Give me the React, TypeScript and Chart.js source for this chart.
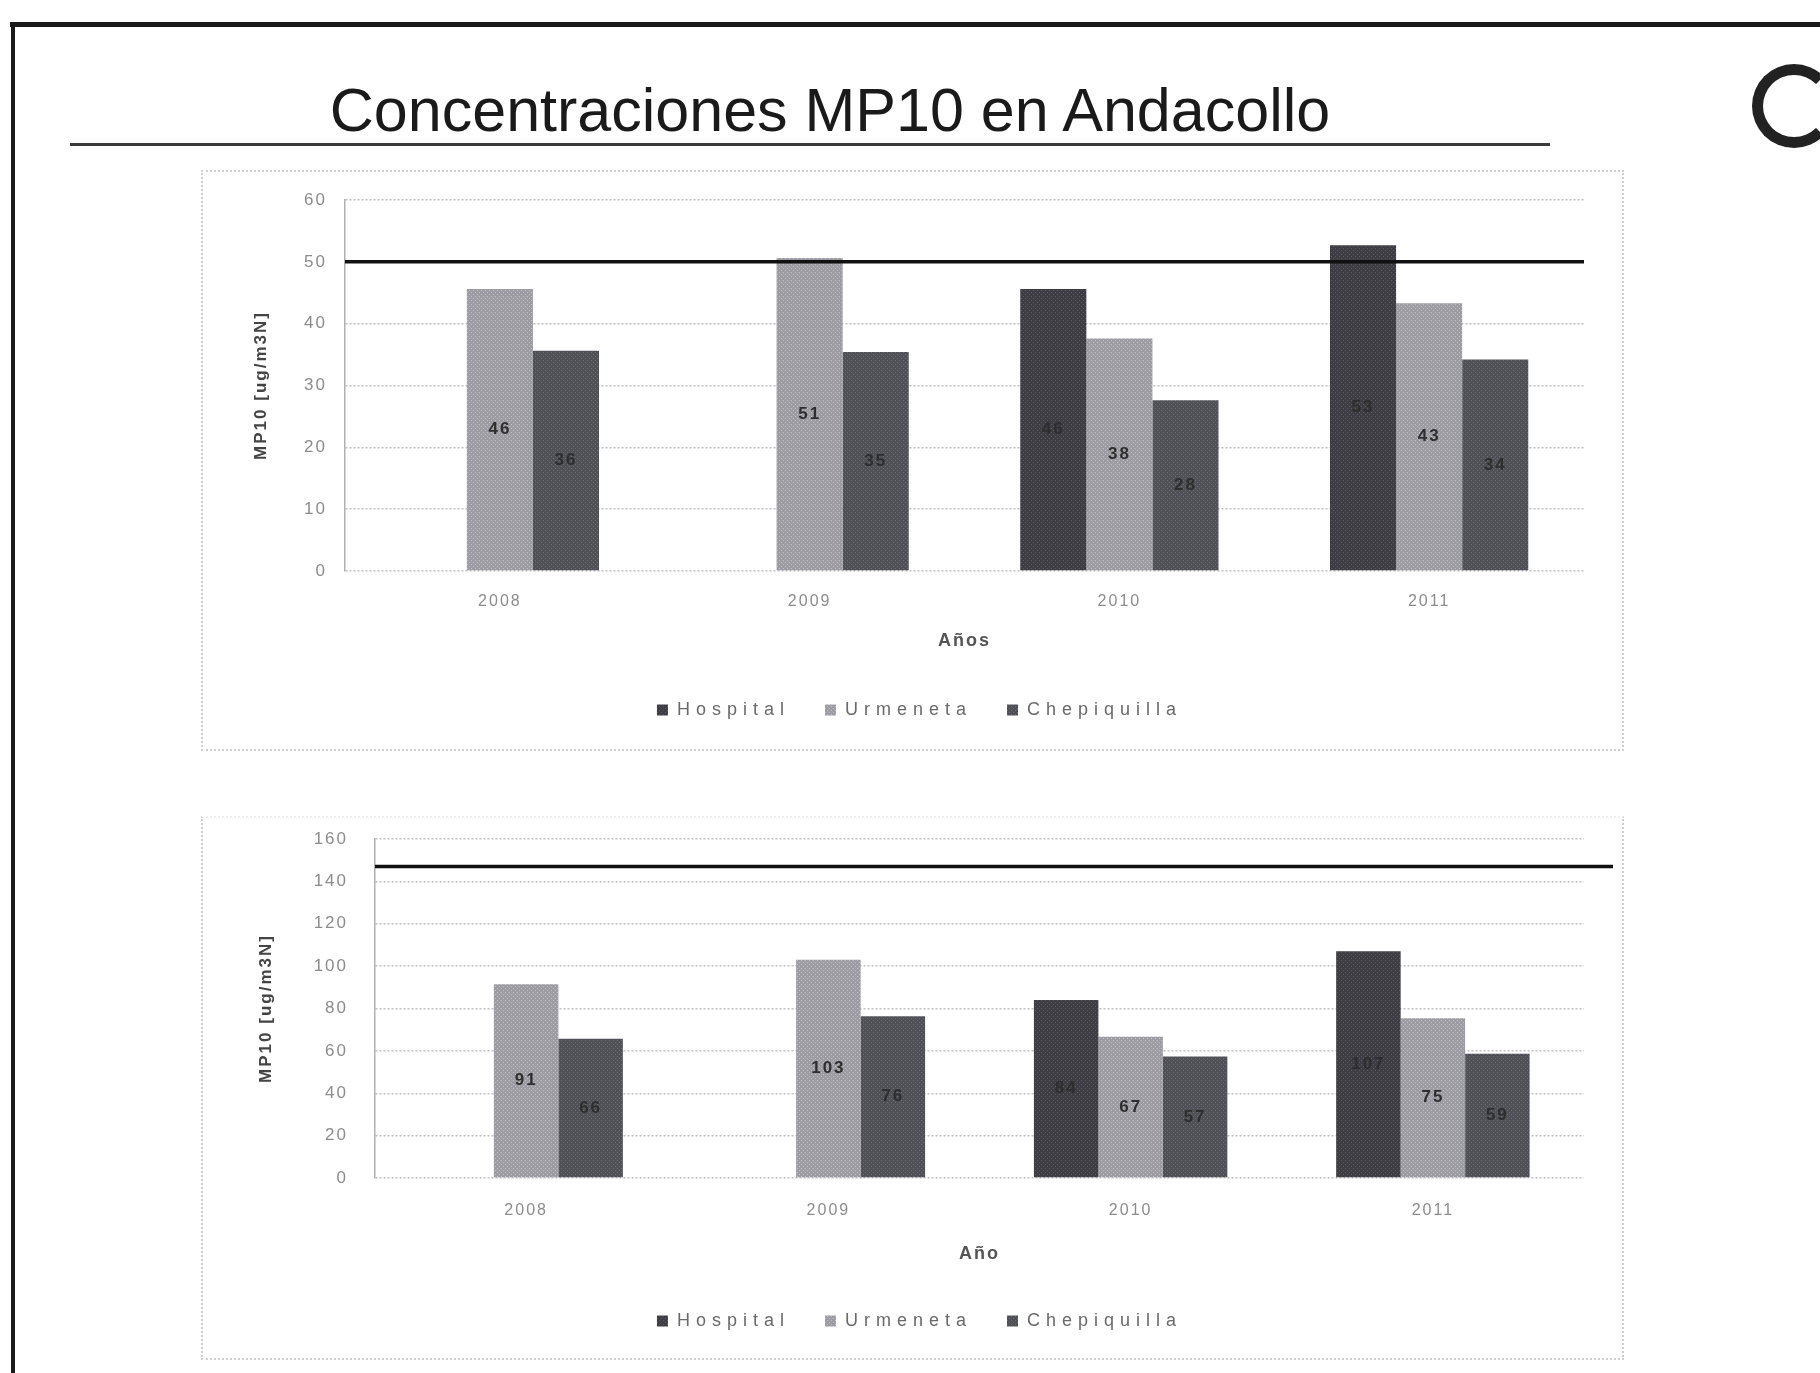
import React, { useEffect, useRef } from "react";
import { Chart, registerables } from "chart.js";

Chart.register(...registerables);

// ---------- DATA ----------
const YEARS = ["2008", "2009", "2010", "2011"];
const STATIONS = ["Hospital", "Urmeneta", "Chepiquilla"];

// Annual average MP10 [ug/m3N]
const ANNUAL_HOSPITAL: (number | null)[] = [null, null, 45.6, 52.7];
const ANNUAL_URMENETA: (number | null)[] = [45.6, 50.6, 37.6, 43.3];
const ANNUAL_CHEPIQUILLA: (number | null)[] = [35.6, 35.4, 27.6, 34.2];
const ANNUAL_LIMIT = 50;
const ANNUAL_Y_MAX = 60;
const ANNUAL_Y_STEP = 10;

// 24h MP10 [ug/m3N]
const DAILY_HOSPITAL: (number | null)[] = [null, null, 84, 107];
const DAILY_URMENETA: (number | null)[] = [91.4, 103, 66.7, 75.4];
const DAILY_CHEPIQUILLA: (number | null)[] = [65.7, 76.4, 57.4, 58.6];
const DAILY_LIMIT = 147;
const DAILY_Y_MAX = 160;
const DAILY_Y_STEP = 20;

const Y_TITLE = "MP10 [ug/m3N]";
const X_TITLE_TOP = "Años";
const X_TITLE_BOTTOM = "Año";
const PAGE_TITLE = "Concentraciones MP10 en Andacollo";

// ---------- STYLE ----------
const BAR_COLORS = ["#3d3d43", "#9c9ca2", "#505057"];
const DOT_COLORS = ["#5a5a60", "#c0c0c6", "#6c6c72"];
const FONT = "'Liberation Sans', Arial, sans-serif";
const TEXT_SPACING = "2px";
const LEGEND_SPACING = "6px";
const LEGEND_SHIFT = 26;

function makePattern(base: string, dot: string): CanvasPattern | string {
  const c = document.createElement("canvas");
  c.width = 4;
  c.height = 4;
  const x = c.getContext("2d");
  if (!x) return base;
  x.fillStyle = base;
  x.fillRect(0, 0, 4, 4);
  x.fillStyle = dot;
  x.fillRect(0, 0, 1, 1);
  x.fillRect(2, 2, 1, 1);
  const p = x.createPattern(c, "repeat");
  return p || base;
}

const spacingPlugin = {
  id: "spacing",
  beforeUpdate(chart: any) {
    chart.ctx.letterSpacing = TEXT_SPACING;
  },
  beforeDraw(chart: any) {
    chart.ctx.letterSpacing = TEXT_SPACING;
  },
};

const overlayPlugin = {
  id: "overlay",
  afterDatasetsDraw(chart: any, _args: any, opts: any) {
    const { ctx, chartArea, scales } = chart;
    ctx.save();
    ctx.font = `bold ${opts.labelSize}px ${FONT}`;
    ctx.fillStyle = "#2e2e2e";
    ctx.textAlign = "center";
    ctx.textBaseline = "middle";
    chart.data.datasets.forEach((ds: any, i: number) => {
      const meta = chart.getDatasetMeta(i);
      meta.data.forEach((bar: any, j: number) => {
        const v = ds.data[j];
        if (v == null) return;
        const p = bar.getProps(["x", "y", "base"], true);
        ctx.fillText(String(Math.round(v)), p.x, (p.y + p.base) / 2);
      });
    });
    const y = scales.y.getPixelForValue(opts.limit);
    ctx.strokeStyle = "#111";
    ctx.lineWidth = 3.5;
    ctx.beginPath();
    ctx.moveTo(chartArea.left, y);
    ctx.lineTo(chartArea.right + opts.extend, y);
    ctx.stroke();
    ctx.restore();
  },
};

type Geo = {
  width: number;
  height: number;
  padTop: number;
  padRight: number;
  padBottom: number;
  yAxisW: number;
  yTickPad: number;
  yTitlePad: number;
  xAxisH: number;
  xTickPad: number;
  xTitlePad: number;
  extend: number;
};

function BarPanel(props: {
  hospital: (number | null)[];
  urmeneta: (number | null)[];
  chepiquilla: (number | null)[];
  limit: number;
  yMax: number;
  yStep: number;
  xTitle: string;
  geo: Geo;
}) {
  const ref = useRef<HTMLCanvasElement>(null);
  useEffect(() => {
    if (!ref.current) return;
    const g = props.geo;
    const series = [props.hospital, props.urmeneta, props.chepiquilla];
    const chart = new Chart(ref.current, {
      type: "bar",
      data: {
        labels: YEARS,
        datasets: STATIONS.map((name, i) => ({
          label: name,
          data: series[i] as any,
          backgroundColor: makePattern(BAR_COLORS[i], DOT_COLORS[i]) as any,
          borderWidth: 0,
          categoryPercentage: 0.64,
          barPercentage: 1.0,
        })),
      },
      options: {
        animation: false,
        responsive: false,
        maintainAspectRatio: false,
        devicePixelRatio: 1,
        layout: {
          padding: { top: g.padTop, right: g.padRight, bottom: g.padBottom, left: 0 },
        },
        plugins: {
          legend: {
            position: "bottom",
            labels: {
              boxWidth: 11,
              boxHeight: 11,
              padding: 35,
              color: "#6a6a6a",
              font: { family: FONT, size: 18 },
            },
          },
          tooltip: { enabled: false },
          overlay: { limit: props.limit, extend: g.extend, labelSize: 17 },
        } as any,
        scales: {
          x: {
            grid: { display: false, drawTicks: false },
            border: { display: false },
            ticks: {
              padding: g.xTickPad,
              color: "#8c8c8c",
              font: { family: FONT, size: 16 },
            },
            title: {
              display: true,
              text: props.xTitle,
              color: "#555",
              font: { family: FONT, size: 18, weight: "bold" },
              padding: { top: 0, bottom: g.xTitlePad },
            },
            afterFit: (s: any) => {
              s.height = g.xAxisH;
            },
          },
          y: {
            min: 0,
            max: props.yMax,
            ticks: {
              stepSize: props.yStep,
              padding: g.yTickPad,
              color: "#8c8c8c",
              font: { family: FONT, size: 17 },
            },
            grid: { color: "#bfbfbf", lineWidth: 1.5, drawTicks: false },
            border: { display: true, color: "#b0b0b0", width: 1.5, dash: [2, 2] },
            title: {
              display: true,
              text: Y_TITLE,
              color: "#444",
              font: { family: FONT, size: 17, weight: "bold" },
              padding: { top: g.yTitlePad, bottom: 0 },
            },
            afterFit: (s: any) => {
              s.width = g.yAxisW;
              s.paddingTop = 0;
              s.paddingBottom = 0;
            },
          },
        },
      },
      plugins: [spacingPlugin as any, overlayPlugin as any],
    });
    // wider letter spacing (and a small shift) for the legend only
    const lg: any = (chart as any).legend;
    const ctx: any = chart.ctx;
    if (lg) {
      const origFit = lg.fit;
      const origDraw = lg.draw;
      lg.fit = function (this: any, ...a: any[]) {
        const prev = ctx.letterSpacing;
        ctx.letterSpacing = LEGEND_SPACING;
        const r = origFit.apply(this, a);
        ctx.letterSpacing = prev;
        return r;
      };
      lg.draw = function (this: any, ...a: any[]) {
        const prev = ctx.letterSpacing;
        ctx.save();
        ctx.translate(LEGEND_SHIFT, 0);
        ctx.letterSpacing = LEGEND_SPACING;
        const r = origDraw.apply(this, a);
        ctx.restore();
        ctx.letterSpacing = prev;
        return r;
      };
      chart.update();
    }
    return () => chart.destroy();
  }, []);
  return (
    <canvas
      ref={ref}
      width={props.geo.width}
      height={props.geo.height}
      style={{ display: "block", width: props.geo.width, height: props.geo.height }}
    />
  );
}

const GEO_TOP: Geo = {
  width: 1419,
  height: 577,
  padTop: 28,
  padRight: 38,
  padBottom: 20,
  yAxisW: 142,
  yTickPad: 18,
  yTitlePad: 48,
  xAxisH: 95,
  xTickPad: 21,
  xTitlePad: 14,
  extend: 0,
};

const GEO_BOTTOM: Geo = {
  width: 1419,
  height: 540,
  padTop: 21,
  padRight: 38,
  padBottom: 18,
  yAxisW: 172,
  yTickPad: 27,
  yTitlePad: 53,
  xAxisH: 99,
  xTickPad: 23,
  xTitlePad: 12,
  extend: 29,
};

export default function App() {
  useEffect(() => {
    document.body.style.margin = "0";
  }, []);
  return (
    <div
      style={{
        position: "fixed",
        left: 0,
        top: 0,
        width: 1820,
        height: 1373,
        overflow: "hidden",
        background: "#fff",
      }}
    >
      {/* slide frame */}
      <div style={{ position: "absolute", left: 10, top: 22, width: 1810, height: 5, background: "#1a1a1a" }} />
      <div style={{ position: "absolute", left: 11, top: 22, width: 4, height: 1351, background: "#1a1a1a" }} />
      {/* title */}
      <div
        style={{
          position: "absolute",
          left: 0,
          top: 79,
          width: 1660,
          textAlign: "center",
          fontFamily: FONT,
          fontSize: 61,
          lineHeight: "62px",
          color: "#1a1a1a",
          whiteSpace: "nowrap",
        }}
      >
        {PAGE_TITLE}
      </div>
      <div style={{ position: "absolute", left: 70, top: 143, width: 1480, height: 3, background: "#3a3a3a" }} />
      {/* logo fragment */}
      <div
        style={{
          position: "absolute",
          left: 1752,
          top: 64,
          width: 62,
          height: 62,
          borderRadius: "50%",
          border: "11px solid #222",
          borderRightColor: "transparent",
        }}
      />
      {/* top chart */}
      <div
        style={{
          position: "absolute",
          left: 201,
          top: 170,
          border: "2px dotted #cfcfcf",
        }}
      >
        <BarPanel
          hospital={ANNUAL_HOSPITAL}
          urmeneta={ANNUAL_URMENETA}
          chepiquilla={ANNUAL_CHEPIQUILLA}
          limit={ANNUAL_LIMIT}
          yMax={ANNUAL_Y_MAX}
          yStep={ANNUAL_Y_STEP}
          xTitle={X_TITLE_TOP}
          geo={GEO_TOP}
        />
      </div>
      {/* bottom chart */}
      <div
        style={{
          position: "absolute",
          left: 201,
          top: 816,
          border: "2px dotted #cfcfcf",
          borderTopColor: "#f0f0f0",
        }}
      >
        <BarPanel
          hospital={DAILY_HOSPITAL}
          urmeneta={DAILY_URMENETA}
          chepiquilla={DAILY_CHEPIQUILLA}
          limit={DAILY_LIMIT}
          yMax={DAILY_Y_MAX}
          yStep={DAILY_Y_STEP}
          xTitle={X_TITLE_BOTTOM}
          geo={GEO_BOTTOM}
        />
      </div>
    </div>
  );
}
